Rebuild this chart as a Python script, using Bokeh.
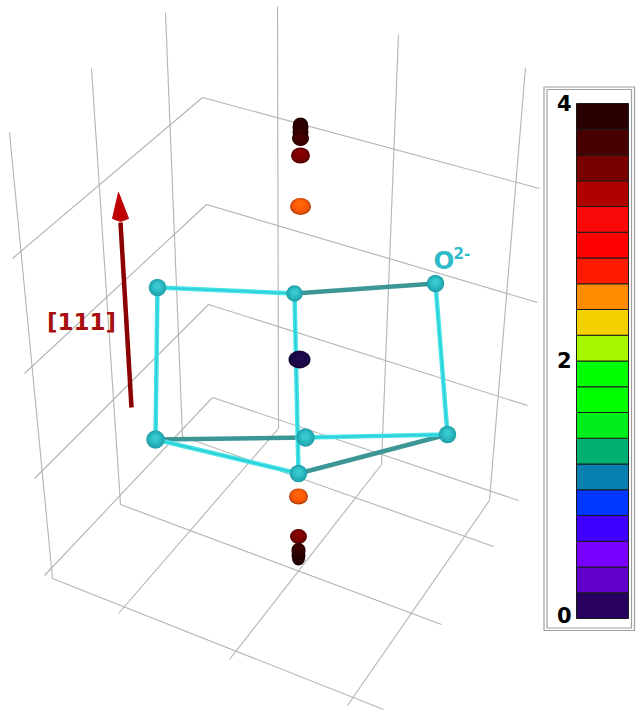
from bokeh.plotting import figure
from bokeh.models import Range1d
from bokeh.core.properties import value
from bokeh.embed import file_html
from bokeh.resources import INLINE

# Box grid: polylines as projected on the picture plane
grid_x = [
    [9, 52], [91, 120], [165, 182], [277, 278], [398, 381], [525, 489],
    [52, 383], [120, 441], [182, 493], [212, 518],
    [44, 212], [118, 278], [229, 381], [347, 489],
    [12, 202, 539], [24, 206, 537], [34, 208, 527],
]
grid_y = [
    [132, 578], [68, 504], [12, 436], [6, 428], [34, 464], [67, 500],
    [578, 709], [504, 624], [436, 546], [397, 500],
    [575, 397], [613, 428], [659, 464], [705, 500],
    [258, 97, 188], [373, 204, 302], [478, 304, 405],
]

# Oxygen cage sites
site_x = [157, 294, 435, 155, 305, 447, 298]
site_y = [287, 293, 283, 439, 437, 434, 473]
site_d = [17.5, 16.5, 17.5, 18.5, 18.5, 17.5, 17.5]
bright_edges = [(0, 1), (0, 3), (2, 5), (1, 6), (4, 5), (3, 6)]
dark_edges = [(1, 2), (3, 4), (6, 5)]

# Density ellipsoids along the [111] axis
blob_x = [300, 300, 299, 298, 298, 300, 300, 300, 300, 298, 298, 298, 298]
blob_y = [155, 206, 359, 496, 536, 138, 132, 127, 124, 558, 555, 551, 549]
blob_w = [19, 21, 22, 19, 17, 17, 16, 16, 15, 13, 14, 14, 14]
blob_h = [16, 17, 18, 16, 15, 15, 14, 14, 14, 14, 13, 13, 13]
blob_c = ["#7a0000", "#ff5a08", "#1c0848", "#ff5a08", "#7a0000", "#400000",
          "#320000", "#2c0000", "#2a0000", "#240000", "#2a0000", "#2e0000", "#360000"]

# Arrow
arrow_x = [131, 120]
arrow_y = [407, 222]
head_x = [118, 128, 120, 112]
head_y = [192, 218, 221, 218]

# Colour scale, value 0 up to value 4
scale_edges = [0.0, 0.2, 0.4, 0.6, 0.8, 1.0, 1.2, 1.4, 1.6, 1.8, 2.0,
               2.2, 2.4, 2.6, 2.8, 3.0, 3.2, 3.4, 3.6, 3.8, 4.0]
scale_colors = ["#280060", "#6000c8", "#7800ff", "#4000ff", "#0038ff", "#0880b0",
                "#00b070", "#00ee1a", "#00ff00", "#00ff00", "#a8f500", "#f5d000",
                "#ff8c00", "#ff1a00", "#ff0000", "#f80808", "#b00000", "#7a0000",
                "#480000", "#2a0000"]
tick_values = [0, 2, 4]
tick_labels = ["0", "2", "4"]


def shade(c, f):
    ch = [int(c[i:i + 2], 16) for i in (1, 3, 5)]
    return "#%02x%02x%02x" % tuple(min(255, round(v * f)) for v in ch)


p = figure(width=640, height=712, x_range=Range1d(0, 640), y_range=Range1d(712, 0),
           output_backend="svg", toolbar_location=None, min_border=0)
p.axis.visible = False
p.grid.visible = False
p.outline_line_color = None
p.background_fill_color = "white"

# value scale: 0 at pixel row 618, 4 at pixel row 103
u = 515 / 4
p.extra_y_ranges = {"scale": Range1d(-(712 - 618) / u, 618 / u)}

p.multi_line(grid_x, grid_y, line_color="#b4b4b4", line_width=1.1)

p.multi_line([[site_x[a], site_x[b]] for a, b in dark_edges],
             [[site_y[a], site_y[b]] for a, b in dark_edges],
             line_color="#3c9696", line_width=4.5)
p.multi_line([[site_x[a], site_x[b]] for a, b in bright_edges],
             [[site_y[a], site_y[b]] for a, b in bright_edges],
             line_color="#44e4e8", line_width=4.5)
p.multi_line([[site_x[a], site_x[b]] for a, b in bright_edges],
             [[site_y[a], site_y[b]] for a, b in bright_edges],
             line_color="#20c4cc", line_width=1.5, line_alpha=0.7)

# Shaded ellipsoids: concentric layers from rim to light centre
for s, f in [(1.0, 0.72), (0.88, 0.92), (0.7, 1.0), (0.42, 1.12)]:
    off = (1 - s) * 0.22
    p.ellipse(blob_x, [y - h * off for y, h in zip(blob_y, blob_h)],
              width=[w * s for w in blob_w], height=[h * s for h in blob_h],
              fill_color=[shade(c, f) for c in blob_c], line_color=None)

for s, col in [(1.0, "#1f9fa8"), (0.88, "#26aeb6"), (0.66, "#2cbcc4"), (0.4, "#38c8ce")]:
    off = (1 - s) * 0.12
    p.ellipse(site_x, [y - d * off for y, d in zip(site_y, site_d)],
              width=[d * s for d in site_d], height=[d * s for d in site_d],
              fill_color=col, line_color=None)

# Arrow
p.line(arrow_x, arrow_y, line_color="#8b0000", line_width=4.5)
p.patch(head_x, head_y, fill_color="#c00000", line_color="#c00000", line_width=1)

p.text([81], [321], text=["[111]"], text_color="#a81010", text_align="center",
       text_baseline="middle", text_font=value("DejaVu Sans"),
       text_font_style="bold", text_font_size="23px")
p.text([433], [260], text=["O"], text_color="#2fbcc8", text_align="left",
       text_baseline="middle", text_font=value("DejaVu Sans"),
       text_font_style="bold", text_font_size="24.5px")
p.text([453], [252], text=["2-"], text_color="#2fbcc8", text_align="left",
       text_baseline="middle", text_font=value("DejaVu Sans"),
       text_font_style="bold", text_font_size="15px")

# Colour-scale frame and cells
p.quad(left=[543.5, 546.5], right=[634, 631], top=[86.5, 89], bottom=[630, 627.5],
       fill_color=None, line_color="#a0a0a0", line_width=1.2)
p.quad(left=576, right=628, bottom=scale_edges[:-1], top=scale_edges[1:],
       y_range_name="scale", fill_color=scale_colors, line_color="#1a1a1a", line_width=1)
p.text([571] * 3, tick_values, text=tick_labels, y_range_name="scale", y_offset=[-4, -1, -1],
       text_color="#000000", text_align="right", text_baseline="middle",
       text_font=value("DejaVu Sans"), text_font_style="bold", text_font_size="21px")

open("out.html", "w").write(file_html(p, INLINE))
